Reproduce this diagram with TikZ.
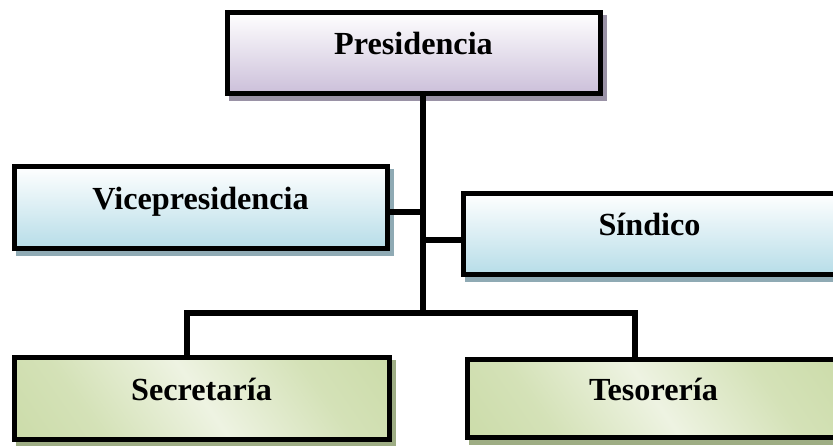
\documentclass[tikz,border=0pt]{standalone}
\usepackage{fontspec}
\setmainfont{Liberation Serif}
\definecolor{purpleB}{HTML}{CCC0DA}
\definecolor{blueB}{HTML}{B7DDE8}
\definecolor{greenD}{HTML}{C3D69B}
\definecolor{greenL}{HTML}{EEF3E2}
\definecolor{shP}{HTML}{9A92A6}
\definecolor{shB}{HTML}{8FAAB4}
\definecolor{shG}{HTML}{9EAD84}
\pgfdeclarehorizontalshading{greenband}{100bp}{color(0bp)=(greenD); color(30bp)=(greenD!60!greenL); color(50bp)=(greenL); color(70bp)=(greenD!60!greenL); color(100bp)=(greenD)}
\tikzset{
  box/.style={draw=black, line width=5pt, rectangle, inner sep=0pt,
    font=\fontsize{32.2}{37}\selectfont\bfseries, text height=20pt, text depth=16pt},
  shad/.style={preaction={draw=#1, fill=#1, line width=5pt, transform canvas={shift={(4pt,-5pt)}}}},
  pbox/.style={box, shad=shP, top color=white, bottom color=purpleB},
  bbox/.style={box, shad=shB, top color=white, bottom color=blueB},
  gbox/.style={box, shad=shG, shading=greenband, shading angle=35},
  conn/.style={draw=black, line width=6pt}
}
\begin{document}
\begin{tikzpicture}[x=1pt,y=-1pt]
\useasboundingbox (0,0) rectangle (833,445);
\fill[white] (0,0) rectangle (833,445);
% junction coordinates
\coordinate (tb) at (423,313);
\coordinate (jv) at (423,212);
\coordinate (js) at (423,240);
\coordinate (bl) at (187,313);
\coordinate (br) at (635,313);
% boxes
\node[pbox, minimum width=373pt, minimum height=81pt] (pres) at (413.5,52.5) {Presidencia};
\node[bbox, minimum width=373pt, minimum height=82pt] (vice) at (200.5,207) {Vicepresidencia};
\node[bbox, minimum width=373pt, minimum height=81pt] (sind) at (649.5,233.5) {Síndico};
\node[gbox, minimum width=375pt, minimum height=82pt] (sec) at (201.5,398) {Secretaría};
\node[gbox, minimum width=373pt, minimum height=78pt] (teso) at (653.5,398) {Tesorería};
% connectors
\draw[conn] (pres.south -| tb) -- (tb);
\draw[conn] (vice.east |- jv) -- (jv);
\draw[conn] (js) -- (sind.west |- js);
\draw[conn] (sec.north -| bl) -- (bl) -- ([xshift=3pt]br);
\draw[conn] (br) -- (teso.north -| br);
\end{tikzpicture}
\end{document}
